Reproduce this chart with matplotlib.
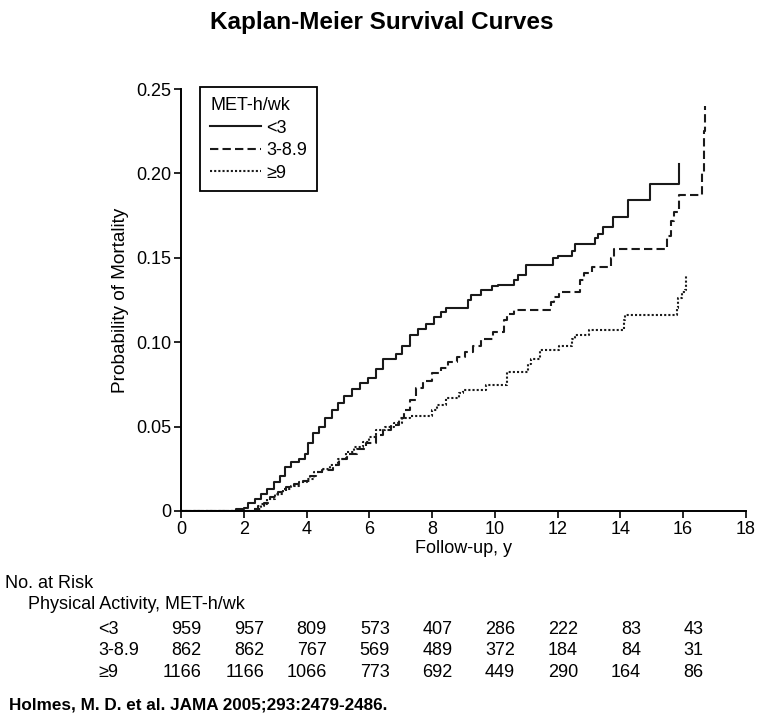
import numpy as np
import matplotlib
matplotlib.use('Agg')
import matplotlib.pyplot as plt
from matplotlib.transforms import blended_transform_factory

# ─── Curvas Kaplan-Meier (años, probabilidad) ────────────────────────────────
T_LT3 = [0, 1.75, 2.0, 2.15, 2.35, 2.55, 2.75, 2.95, 3.15, 3.3, 3.5, 3.75, 3.95,
         4.05, 4.2, 4.4, 4.6, 4.8, 5.0, 5.2, 5.45, 5.7, 5.95, 6.2, 6.45, 6.85,
         7.05, 7.3, 7.55, 7.8, 8.05, 8.3, 8.45, 9.15, 9.25, 9.55, 9.9, 10.1,
         10.6, 10.75, 11.0, 11.85, 12.0, 12.45, 12.55, 13.2, 13.3, 13.45, 13.75,
         14.25, 14.95, 15.87]
P_LT3 = [0, 0.001, 0.002, 0.005, 0.007, 0.010, 0.013, 0.017, 0.021, 0.026, 0.029,
         0.031, 0.034, 0.040, 0.046, 0.050, 0.055, 0.060, 0.064, 0.068, 0.072,
         0.076, 0.079, 0.084, 0.090, 0.093, 0.098, 0.104, 0.108, 0.111, 0.115,
         0.118, 0.120, 0.125, 0.128, 0.131, 0.133, 0.134, 0.137, 0.140, 0.146,
         0.150, 0.151, 0.154, 0.158, 0.162, 0.164, 0.168, 0.174, 0.184, 0.194,
         0.2055]

T_MID = [0, 2.25, 2.45, 2.65, 2.85, 3.1, 3.35, 3.6, 3.9, 4.1, 4.3, 4.5, 4.85,
         5.05, 5.3, 5.6, 5.9, 6.2, 6.45, 6.7, 6.95, 7.1, 7.3, 7.5, 7.7, 8.0, 8.3,
         8.5, 8.8, 9.05, 9.3, 9.55, 9.95, 10.3, 10.4, 10.6, 11.8, 11.9, 12.05,
         12.7, 12.85, 13.1, 13.7, 13.8, 15.5, 15.6, 15.7, 15.88, 16.6, 16.65, 16.7]
P_MID = [0, 0.001, 0.003, 0.005, 0.008, 0.011, 0.014, 0.016, 0.018, 0.021, 0.023,
         0.024, 0.027, 0.031, 0.034, 0.037, 0.040, 0.045, 0.048, 0.051, 0.055,
         0.060, 0.066, 0.073, 0.077, 0.082, 0.085, 0.088, 0.091, 0.094, 0.098,
         0.102, 0.106, 0.113, 0.117, 0.119, 0.124, 0.127, 0.130, 0.137, 0.141,
         0.1445, 0.150, 0.1555, 0.163, 0.172, 0.177, 0.187, 0.200, 0.225, 0.240]

T_GE9 = [0, 2.35, 2.55, 2.75, 3.0, 3.25, 3.5, 3.75, 4.0, 4.25, 4.5, 4.75, 5.0,
         5.25, 5.5, 5.8, 6.0, 6.2, 6.5, 6.8, 7.05, 7.3, 8.0, 8.15, 8.45, 8.85,
         9.0, 9.73, 10.4, 11.05, 11.15, 11.45, 12.05, 12.45, 12.55, 13.0, 14.1,
         14.15, 15.8, 15.85, 15.95, 16.05, 16.1]
P_GE9 = [0, 0.001, 0.004, 0.007, 0.010, 0.013, 0.015, 0.017, 0.019, 0.023, 0.025,
         0.027, 0.031, 0.035, 0.038, 0.041, 0.044, 0.048, 0.050, 0.052, 0.055,
         0.056, 0.060, 0.063, 0.067, 0.070, 0.0716, 0.0746, 0.0825, 0.087, 0.090,
         0.0953, 0.098, 0.102, 0.104, 0.107, 0.113, 0.116, 0.120, 0.126, 0.130,
         0.131, 0.140]

GRUPOS = ["<3", "3-8.9", "≥9"]
ESTILOS = ["-", (0, (4, 2)), (0, (1, 1))]

# ─── Número en riesgo ────────────────────────────────────────────────────────
T_RIESGO = [0, 2, 4, 6, 8, 10, 12, 14, 16]
N_LT3 = [959, 957, 809, 573, 407, 286, 222, 83, 43]
N_MID = [862, 862, 767, 569, 489, 372, 184, 84, 31]
N_GE9 = [1166, 1166, 1066, 773, 692, 449, 290, 164, 86]

plt.rcParams.update({
    "font.family": ["Liberation Sans", "DejaVu Sans"],
    "axes.spines.top": False,
    "axes.spines.right": False,
    "axes.linewidth": 1.4,
    "xtick.direction": "out",
    "ytick.direction": "out",
})

fig = plt.figure(figsize=(7.61, 7.19), dpi=100)
ax = fig.add_axes([0.2378, 0.2893, 0.7424, 0.5869])

curvas = [(T_LT3, P_LT3), (T_MID, P_MID), (T_GE9, P_GE9)]
for (t, p), g, ls in zip(curvas, GRUPOS, ESTILOS):
    ax.plot(t, p, drawstyle='steps-post', color='#1a1a1a', linestyle=ls,
            linewidth=1.5, label=g)

ax.set_xlim(0, 18)
ax.set_ylim(0, 0.25)
ax.set_xticks(np.arange(0, 19, 2))
ax.set_yticks([0, 0.05, 0.10, 0.15, 0.20, 0.25])
ax.set_yticklabels(["0", "0.05", "0.10", "0.15", "0.20", "0.25"])
ax.tick_params(labelsize=13, length=5, width=1.2, pad=2)
ax.set_xlabel("Follow-up, y", fontsize=13, labelpad=2)
ax.set_ylabel("Probability of Mortality", fontsize=13.7, labelpad=5)

leg = ax.legend(title="MET-h/wk", loc='upper left', bbox_to_anchor=(0.034, 1.004),
                borderaxespad=0, fontsize=13, title_fontsize=13, alignment='left',
                handlelength=2.8, handletextpad=0.3, labelspacing=0.3,
                borderpad=0.55, fancybox=False, framealpha=1, edgecolor='black')
leg.get_frame().set_linewidth(1.3)

fig.text(0.502, 0.969, "Kaplan-Meier Survival Curves", ha='center', va='center',
         fontsize=17.5, fontweight='bold')

# ─── Tabla de número en riesgo ──────────────────────────────────────────────
fig.text(0.007, 0.188, "No. at Risk", ha='left', va='center', fontsize=13)
fig.text(0.037, 0.159, "Physical Activity, MET-h/wk", ha='left', va='center', fontsize=13)
trans = blended_transform_factory(ax.transData, fig.transFigure)
for y, g, fila in zip([0.124, 0.0946, 0.064], GRUPOS, [N_LT3, N_MID, N_GE9]):
    fig.text(0.129, y, g, ha='left', va='center', fontsize=13)
    for t, n in zip(T_RIESGO, fila):
        ax.text(t + 0.65, y, str(n), transform=trans, ha='right', va='center',
                fontsize=13, clip_on=False)

fig.text(0.012, 0.0195, "Holmes, M. D. et al. JAMA 2005;293:2479-2486.",
         ha='left', va='center', fontsize=12.3, fontweight='bold')

fig.savefig("out.png", dpi=100, facecolor='white')
